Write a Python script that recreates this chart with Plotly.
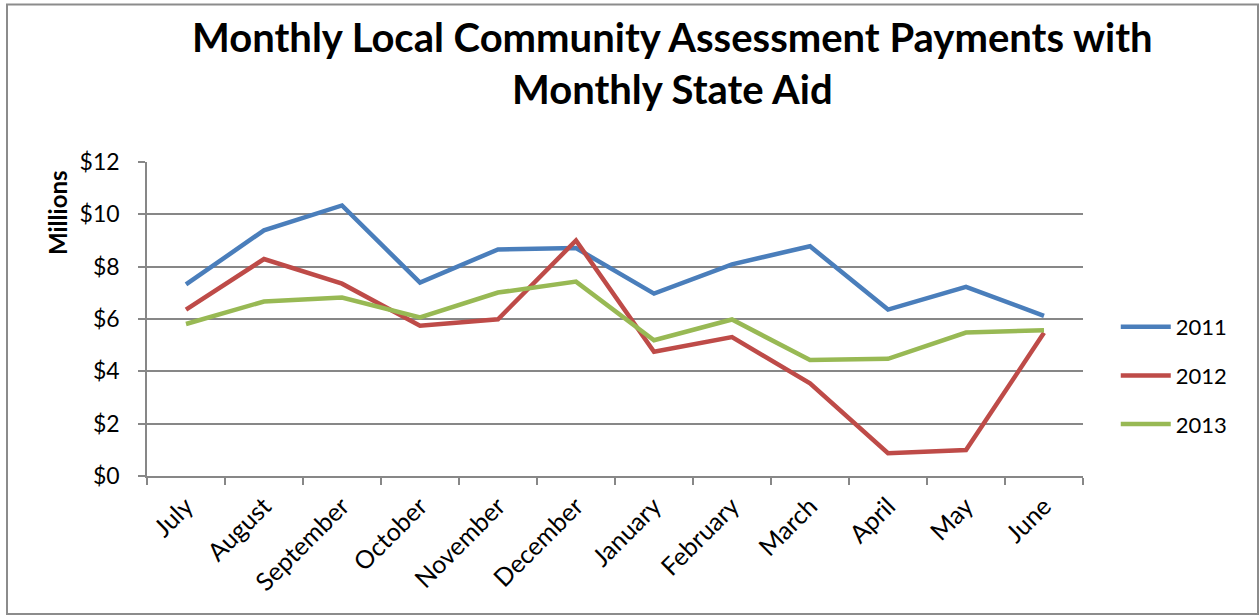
import plotly.graph_objects as go

months = ["July", "August", "September", "October", "November", "December",
          "January", "February", "March", "April", "May", "June"]
pay_2011 = [7.32, 9.39, 10.34, 7.39, 8.66, 8.71, 6.97, 8.09, 8.78, 6.36, 7.23, 6.12]
pay_2012 = [6.36, 8.29, 7.35, 5.74, 5.99, 9.00, 4.75, 5.31, 3.54, 0.87, 0.99, 5.47]
pay_2013 = [5.81, 6.67, 6.82, 6.06, 7.01, 7.43, 5.19, 5.98, 4.43, 4.48, 5.48, 5.57]
series_names = ["2011", "2012", "2013"]
series_colors = ["#4A7EBB", "#BE4B48", "#98B954"]
y_ticks = [0, 2, 4, 6, 8, 10, 12]
y_tick_text = ["$0", "$2", "$4", "$6", "$8", "$10", "$12"]

FONT = "Lato"
GRID = "#878787"

fig = go.Figure()
for name, vals, color in zip(series_names, [pay_2011, pay_2012, pay_2013], series_colors):
    fig.add_trace(go.Scatter(
        x=months, y=vals, name=name, mode="lines",
        line=dict(color=color, width=4.5),
        legendgroup=name,
    ))

fig.update_layout(
    width=1260, height=615,
    margin=dict(l=147, r=177, t=162, b=139),
    paper_bgcolor="white", plot_bgcolor="white",
    font=dict(family=FONT, color="black", size=20),
    showlegend=True,
    legend=dict(
        x=1.035, y=0.32, xanchor="left", yanchor="middle",
        font=dict(family=FONT, size=22, color="black"),
        tracegroupgap=17, itemwidth=50,
        bgcolor="rgba(0,0,0,0)",
    ),
    annotations=[
        dict(text="<b>Monthly Local Community Assessment Payments with<br>Monthly State Aid</b>",
             xref="paper", yref="paper", x=(672 - 147) / 936, y=1.48,
             xanchor="center", yanchor="top", showarrow=False,
             font=dict(family=FONT, size=40, color="black"), align="center"),
        dict(text="<b>Millions</b>", textangle=-90,
             xref="paper", yref="paper", x=(57 - 147) / 936, y=(476 - 213) / 314,
             xanchor="center", yanchor="middle", showarrow=False,
             font=dict(family=FONT, size=24, color="black")),
    ],
    shapes=[
        dict(type="rect", xref="paper", yref="paper",
             x0=(7 - 147) / 936, x1=(1258 - 147) / 936,
             y0=(476 - 614) / 314, y1=(476 - 4.5) / 314,
             line=dict(color="#8c8c8c", width=2), fillcolor="rgba(0,0,0,0)",
             layer="below"),
    ],
)

fig.update_xaxes(
    type="category", tickangle=-45, tickson="boundaries",
    range=[-0.5, len(months) - 0.5],
    ticks="outside", ticklen=7, tickcolor=GRID, tickwidth=1.5,
    showline=True, linecolor=GRID, linewidth=1.5,
    showgrid=False, tickfont=dict(family=FONT, size=25),
    ticklabelstandoff=4,
)
fig.update_yaxes(
    range=[0, 12], tickvals=y_ticks, ticktext=y_tick_text,
    ticks="outside", ticklen=7, tickcolor=GRID, tickwidth=1.5,
    showline=True, linecolor=GRID, linewidth=1.5,
    showgrid=True, gridcolor=GRID, gridwidth=1.5,
    zeroline=False, tickfont=dict(family=FONT, size=23),
    ticklabelstandoff=14,
)

fig.write_html("out.html")
